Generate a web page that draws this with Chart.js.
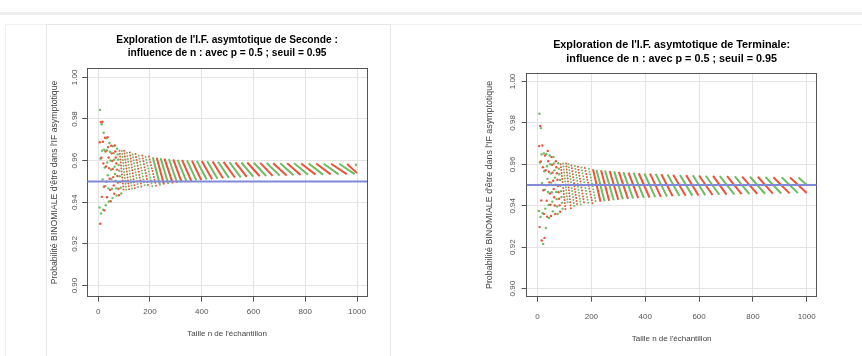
<!DOCTYPE html>
<html>
<head>
<meta charset="utf-8">
<script src="https://cdn.jsdelivr.net/npm/chart.js@4.4.0/dist/chart.umd.min.js"></script>
<style>
  html, body { margin: 0; padding: 0; background: #fff; }
  body { width: 862px; height: 356px; position: relative; overflow: hidden; }
  .panel { position: absolute; top: 0; width: 431px; height: 356px; }
  #bandeau { position: absolute; left: 0; top: 12px; width: 862px; height: 3px; background: #efefef; }
  #page { position: absolute; left: 5px; top: 24px; width: 870px; height: 350px; border-left: 1px solid #f2f2f2; border-top: 1px solid #f2f2f2; }
  #cadre { position: absolute; left: 46px; top: 24px; width: 343px; height: 345px; border: 1px solid #e6e6e6; }
</style>
</head>
<body>
<div id="bandeau"></div>
<div id="page"></div>
<div id="cadre"></div>
<div class="panel" style="left:0"><canvas id="chartSeconde" width="431" height="356"></canvas></div>
<div class="panel" style="left:431px"><canvas id="chartTerminale" width="431" height="356"></canvas></div>
<script>
// Axes communs
var xTicks = [0, 200, 400, 600, 800, 1000];
var yTicks = [0.90, 0.92, 0.94, 0.96, 0.98, 1.00];
var seuil = 0.95;

// ---- Seconde : petits n (points isolés), rouge = n pair, vert = n impair
var secRedN = [6, 8, 10, 12, 14, 16, 18, 20, 22, 24, 26, 28, 30, 32, 34, 36, 38, 40, 42, 44, 46, 48, 50, 52, 54, 56, 58, 60, 62, 64, 66, 68, 70, 72, 74, 76, 78, 80];
var secRedP = [0.9688, 0.9297, 0.9785, 0.9614, 0.9426, 0.9787, 0.9691, 0.9586, 0.9475, 0.9361, 0.9710, 0.9644, 0.9572, 0.9499, 0.9424, 0.9712, 0.9665, 0.9615, 0.9564, 0.9513, 0.9459, 0.9405, 0.9672, 0.9635, 0.9598, 0.9560, 0.9521, 0.9481, 0.9441, 0.9673, 0.9644, 0.9615, 0.9586, 0.9557, 0.9526, 0.9495, 0.9465, 0.9434];
var secGreenN = [5, 7, 9, 11, 13, 15, 17, 19, 21, 23, 25, 27, 29, 31, 33, 35, 37, 39, 41, 43, 45, 47, 49, 51, 53, 55, 57, 59, 61, 63, 65, 67, 69, 71, 73, 75, 77, 79, 81, 83, 85, 87, 89];
var secGreenP = [0.9375, 0.9844, 0.9609, 0.9346, 0.9775, 0.9648, 0.9510, 0.9364, 0.9734, 0.9653, 0.9567, 0.9477, 0.9386, 0.9707, 0.9650, 0.9591, 0.9530, 0.9467, 0.9404, 0.9685, 0.9643, 0.9601, 0.9556, 0.9512, 0.9465, 0.9420, 0.9669, 0.9636, 0.9604, 0.9571, 0.9536, 0.9502, 0.9467, 0.9432, 0.9657, 0.9630, 0.9605, 0.9579, 0.9552, 0.9525, 0.9497, 0.9470, 0.9442];

// ---- Seconde : bandes (n de début, n de fin, proba en haut, proba en bas)
var secRedDebut = [82, 100, 122, 144, 170, 196, 226, 256, 290, 324, 362, 400, 442, 484, 530, 576, 626, 676, 730, 784, 842, 900, 962];
var secRedFin = [98, 120, 142, 168, 194, 224, 254, 288, 322, 360, 398, 440, 482, 528, 574, 624, 674, 728, 782, 840, 898, 960, 1000];
var secRedHaut = [0.9648, 0.9648, 0.9639, 0.9632, 0.9625, 0.9620, 0.9614, 0.9610, 0.9606, 0.9603, 0.9600, 0.9598, 0.9596, 0.9594, 0.9592, 0.9591, 0.9589, 0.9588, 0.9587, 0.9586, 0.9586, 0.9585, 0.9584];
var secRedBas = [0.9457, 0.9453, 0.9460, 0.9466, 0.9471, 0.9475, 0.9485, 0.9491, 0.9497, 0.9502, 0.9507, 0.9511, 0.9515, 0.9519, 0.9522, 0.9525, 0.9527, 0.9529, 0.9531, 0.9533, 0.9534, 0.9535, 0.9540];
var secGreenDebut = [91, 111, 133, 157, 183, 211, 241, 273, 307, 343, 381, 421, 463, 507, 553, 601, 651, 703, 757, 813, 871, 931, 993];
var secGreenFin = [109, 131, 155, 181, 209, 239, 271, 305, 341, 379, 419, 461, 505, 551, 599, 649, 701, 755, 811, 869, 929, 991, 999];
var secGreenHaut = [0.9646, 0.9637, 0.9630, 0.9623, 0.9618, 0.9616, 0.9612, 0.9608, 0.9604, 0.9601, 0.9599, 0.9597, 0.9595, 0.9593, 0.9591, 0.9590, 0.9589, 0.9588, 0.9587, 0.9586, 0.9585, 0.9585, 0.9584];
var secGreenBas = [0.9451, 0.9458, 0.9465, 0.9470, 0.9475, 0.9481, 0.9488, 0.9494, 0.9500, 0.9505, 0.9509, 0.9513, 0.9517, 0.9520, 0.9523, 0.9526, 0.9528, 0.9530, 0.9532, 0.9533, 0.9534, 0.9535, 0.9575];

// ---- Terminale : petits n
var terRedN = [6, 8, 10, 12, 14, 16, 18, 20, 22, 24, 26, 28, 30, 32, 34, 36, 38, 40, 42, 44, 46, 48, 50, 52, 54, 56, 58, 60, 62, 64, 66, 68, 70, 72, 74, 76, 78, 80, 82, 84];
var terRedP = [0.9688, 0.9297, 0.9785, 0.9614, 0.9426, 0.9232, 0.9691, 0.9586, 0.9475, 0.9361, 0.9245, 0.9643, 0.9572, 0.9499, 0.9424, 0.9347, 0.9665, 0.9615, 0.9564, 0.9513, 0.9459, 0.9405, 0.9351, 0.9635, 0.9598, 0.9560, 0.9521, 0.9481, 0.9441, 0.9401, 0.9360, 0.9615, 0.9586, 0.9557, 0.9526, 0.9495, 0.9465, 0.9434, 0.9402, 0.9371];
var terGreenN = [5, 7, 9, 11, 13, 15, 17, 19, 21, 23, 25, 27, 29, 31, 33, 35, 37, 39, 41, 43, 45, 47, 49, 51, 53, 55, 57, 59, 61, 63, 65, 67, 69, 71, 73, 75, 77, 79, 81, 83, 85, 87, 89, 91, 93];
var terGreenP = [0.9375, 0.9844, 0.9609, 0.9346, 0.9775, 0.9648, 0.9510, 0.9364, 0.9216, 0.9653, 0.9567, 0.9478, 0.9386, 0.9293, 0.9650, 0.9591, 0.9530, 0.9467, 0.9404, 0.9341, 0.9643, 0.9601, 0.9556, 0.9512, 0.9465, 0.9420, 0.9373, 0.9636, 0.9604, 0.9571, 0.9536, 0.9502, 0.9467, 0.9432, 0.9397, 0.9360, 0.9605, 0.9579, 0.9552, 0.9525, 0.9497, 0.9470, 0.9442, 0.9414, 0.9386];

// ---- Terminale : bandes
var terRedDebut = [86, 106, 126, 150, 176, 206, 236, 268, 302, 338, 376, 418, 460, 504, 552, 600, 652, 704, 760, 818, 876, 938];
var terRedFin = [104, 124, 148, 174, 204, 234, 266, 300, 336, 374, 416, 458, 502, 550, 598, 650, 702, 758, 816, 874, 936, 1000];
var terRedHaut = [0.9601, 0.9604, 0.9595, 0.9588, 0.9582, 0.9576, 0.9572, 0.9568, 0.9564, 0.9560, 0.9557, 0.9555, 0.9552, 0.9550, 0.9548, 0.9546, 0.9544, 0.9543, 0.9541, 0.9540, 0.9538, 0.9537];
var terRedBas = [0.9381, 0.9386, 0.9397, 0.9405, 0.9412, 0.9419, 0.9424, 0.9429, 0.9433, 0.9437, 0.9440, 0.9443, 0.9446, 0.9448, 0.9450, 0.9452, 0.9454, 0.9456, 0.9457, 0.9459, 0.9460, 0.9462];
var terGreenDebut = [95, 115, 139, 163, 191, 219, 251, 285, 319, 357, 397, 439, 483, 529, 577, 625, 677, 733, 789, 847, 907, 969];
var terGreenFin = [113, 137, 161, 189, 217, 249, 283, 317, 355, 395, 437, 481, 527, 575, 623, 675, 731, 787, 845, 905, 967, 999];
var terGreenHaut = [0.9604, 0.9600, 0.9592, 0.9585, 0.9579, 0.9574, 0.9570, 0.9566, 0.9562, 0.9559, 0.9556, 0.9554, 0.9551, 0.9549, 0.9547, 0.9545, 0.9543, 0.9542, 0.9540, 0.9539, 0.9538, 0.9536];
var terGreenBas = [0.9405, 0.9392, 0.9401, 0.9409, 0.9416, 0.9422, 0.9427, 0.9431, 0.9435, 0.9438, 0.9442, 0.9444, 0.9447, 0.9449, 0.9451, 0.9453, 0.9455, 0.9456, 0.9458, 0.9459, 0.9461, 0.9502];

var rouge = 'rgb(238, 82, 58)';
var vert = 'rgb(108, 190, 96)';
var bleu = 'rgb(128, 138, 214)';
var police = "'Liberation Sans', Arial, sans-serif";
Chart.defaults.font.family = police;

function pointsFrom(ns, ps) {
    var out = [];
    for (var i = 0; i < ns.length; i++) {
        out.push({x: ns[i], y: ps[i]});
    }
    return out;
}

// une bande = un segment du début (haut) à la fin (bas), coupé par un point vide
function bandsFrom(debut, fin, haut, bas, pointilles) {
    var out = [];
    for (var i = 0; i < debut.length; i++) {
        if ((debut[i] < 200) !== pointilles) continue;
        out.push({x: debut[i], y: haut[i]});
        out.push({x: fin[i], y: bas[i]});
        out.push({x: fin[i], y: null});
    }
    return out;
}

function bandDataset(data, color, dotted) {
    return {
        type: 'line',
        data: data,
        borderColor: color,
        borderWidth: 2,
        borderDash: dotted ? [0, 3] : [],
        borderCapStyle: dotted ? 'round' : 'butt',
        pointRadius: 0,
        spanGaps: false,
        order: 1
    };
}

function makeChart(id, o) {
    var datasets = [
        {
            type: 'line',
            data: [{x: o.xMin, y: seuil}, {x: o.xMax, y: seuil}],
            borderColor: bleu,
            borderWidth: 2,
            pointRadius: 0,
            order: 0
        },
        {type: 'scatter', data: pointsFrom(o.redN, o.redP), backgroundColor: rouge, borderWidth: 0, pointRadius: 1.2, order: 1},
        {type: 'scatter', data: pointsFrom(o.greenN, o.greenP), backgroundColor: vert, borderWidth: 0, pointRadius: 1.2, order: 1},
        bandDataset(bandsFrom(o.rd, o.rf, o.rh, o.rb, true), rouge, true),
        bandDataset(bandsFrom(o.gd, o.gf, o.gh, o.gb, true), vert, true),
        bandDataset(bandsFrom(o.rd, o.rf, o.rh, o.rb, false), rouge, false),
        bandDataset(bandsFrom(o.gd, o.gf, o.gh, o.gb, false), vert, false)
    ];

    new Chart(document.getElementById(id), {
        type: 'scatter',
        data: {datasets: datasets},
        options: {
            responsive: false,
            animation: false,
            events: [],
            layout: {padding: o.padding},
            plugins: {
                legend: {display: false},
                tooltip: {enabled: false},
                title: {
                    display: true,
                    fullSize: false,
                    text: o.title,
                    color: '#000',
                    font: {size: o.titleSize, weight: 'bold', lineHeight: 1.26},
                    padding: o.titlePadding
                }
            },
            scales: {
                x: {
                    type: 'linear',
                    position: 'bottom',
                    min: o.xMin,
                    max: o.xMax,
                    afterBuildTicks: function (s) { s.ticks = xTicks.map(function (v) { return {value: v}; }); },
                    ticks: {
                        color: '#555', font: {size: 8}, padding: o.xTickPad, maxRotation: 0, autoSkip: false,
                        callback: function (v) { return String(v); }
                    },
                    grid: {color: '#e4e4e4', tickColor: '#555', tickLength: 5},
                    border: {color: '#555', width: 1},
                    title: {display: true, text: "Taille n de l'échantillon", color: '#444', font: {size: 8}, padding: {top: o.xTitlePad, bottom: 0}}
                },
                y: {
                    type: 'linear',
                    position: 'left',
                    min: o.yMin,
                    max: o.yMax,
                    afterBuildTicks: function (s) { s.ticks = yTicks.map(function (v) { return {value: v}; }); },
                    ticks: {
                        color: '#555', font: {size: 8}, padding: o.yTickPad,
                        minRotation: 90, maxRotation: 90, crossAlign: 'center', autoSkip: false,
                        callback: function (v) { return v.toFixed(2); }
                    },
                    grid: {color: '#e4e4e4', tickColor: '#555', tickLength: 5},
                    border: {color: '#555', width: 1},
                    title: {display: true, text: "Probabilité BINOMIALE d'être dans l'IF asymptotique", color: '#444', font: {size: o.yTitleSize}, padding: {top: 0, bottom: o.yTitlePad}}
                },
                x2: {
                    type: 'linear', position: 'top',
                    grid: {display: false, drawTicks: false},
                    ticks: {display: false},
                    border: {color: '#555', width: 1}
                },
                y2: {
                    type: 'linear', position: 'right',
                    grid: {display: false, drawTicks: false},
                    ticks: {display: false},
                    border: {color: '#555', width: 1}
                }
            }
        }
    });
}

makeChart('chartSeconde', {
    title: ["Exploration de l'I.F. asymtotique de Seconde :", "influence de n : avec p = 0.5 ; seuil = 0.95"],
    titleSize: 10.2, yTitleSize: 8.7,
    xMin: -42.5, xMax: 1038.6, yMin: 0.8947, yMax: 1.0043,
    padding: {top: 10, left: 49.6, right: 64, bottom: 17.2},
    titlePadding: {top: 24.2, bottom: 8.5},
    xTickPad: 5, xTitlePad: 8.0, yTickPad: 0, yTitlePad: 12.6,
    redN: secRedN, redP: secRedP, greenN: secGreenN, greenP: secGreenP,
    rd: secRedDebut, rf: secRedFin, rh: secRedHaut, rb: secRedBas,
    gd: secGreenDebut, gf: secGreenFin, gh: secGreenHaut, gb: secGreenBas
});

makeChart('chartTerminale', {
    title: ["Exploration de l'I.F. asymtotique de Terminale:", "influence de n : avec p = 0.5 ; seuil = 0.95"],
    titleSize: 10.8, yTitleSize: 8.9,
    xMin: -40.6, xMax: 1036.9, yMin: 0.8961, yMax: 1.0040,
    padding: {top: 10, left: 53.6, right: 45.3, bottom: 12.6},
    titlePadding: {top: 28.3, bottom: 7.7},
    xTickPad: 9.9, xTitlePad: 2.7, yTickPad: 1.1, yTitlePad: 14.5,
    redN: terRedN, redP: terRedP, greenN: terGreenN, greenP: terGreenP,
    rd: terRedDebut, rf: terRedFin, rh: terRedHaut, rb: terRedBas,
    gd: terGreenDebut, gf: terGreenFin, gh: terGreenHaut, gb: terGreenBas
});
</script>
</body>
</html>
